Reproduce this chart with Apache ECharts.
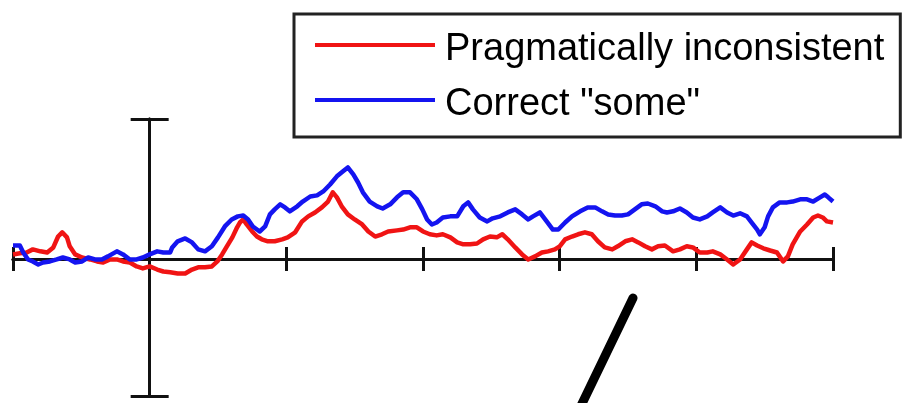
<!DOCTYPE html>
<html>
<head>
<meta charset="utf-8">
<title>ERP waveforms</title>
<script src="https://cdn.jsdelivr.net/npm/echarts@6/dist/echarts.min.js"></script>
<style>
  html, body { margin: 0; padding: 0; background: #fff; }
  #chart { width: 903px; height: 403px; }
</style>
</head>
<body>
<div id="chart"></div>
<script>
// Series names
const seriesNames = ['Pragmatically inconsistent', 'Correct "some"'];

// Time axis (ms) and tick positions
const timeTicks = [-200, 0, 200, 400, 600, 800, 1000];
// Amplitude scale bar ends (µV)
const ampRange = [-4.9, 5];

// Pragmatically inconsistent: time (ms) / amplitude (µV)
const timesRed = [-200, -190, -180, -171, -160, -150, -141, -134, -128, -121, -117, -109, -99, -87, -77, -68, -58, -48, -39, -29, -19, -10, 0, 11, 20, 30, 41, 52, 62, 71, 81, 91, 99, 106, 113, 121, 128, 132, 137, 142, 150, 157, 164, 173, 183, 194, 202, 213, 223, 232, 242, 252, 261, 268, 274, 281, 290, 300, 311, 320, 330, 340, 349, 362, 371, 381, 391, 400, 410, 420, 429, 440, 450, 459, 469, 479, 488, 498, 508, 516, 524, 535, 545, 554, 564, 574, 583, 593, 600, 608, 618, 627, 637, 647, 656, 666, 677, 685, 696, 706, 715, 725, 735, 744, 754, 766, 776, 786, 795, 805, 816, 824, 835, 845, 854, 864, 874, 881, 889, 898, 908, 918, 927, 934, 941, 952, 962, 971, 978, 985, 991, 1000];
const uvRed = [0.16, 0.20, 0.23, 0.34, 0.27, 0.23, 0.41, 0.80, 0.95, 0.77, 0.45, 0.16, 0.05, -0.02, -0.09, -0.13, -0.02, -0.02, -0.09, -0.13, -0.27, -0.34, -0.27, -0.38, -0.45, -0.48, -0.52, -0.52, -0.38, -0.30, -0.30, -0.27, -0.09, 0.16, 0.45, 0.77, 1.13, 1.30, 1.41, 1.23, 0.98, 0.80, 0.70, 0.63, 0.63, 0.70, 0.77, 0.95, 1.34, 1.52, 1.66, 1.84, 2.05, 2.38, 2.20, 1.88, 1.59, 1.41, 1.23, 0.98, 0.80, 0.88, 0.98, 1.02, 1.05, 1.13, 1.13, 0.98, 0.88, 0.84, 0.88, 0.77, 0.59, 0.52, 0.52, 0.55, 0.70, 0.80, 0.77, 0.88, 0.70, 0.41, 0.16, -0.02, 0.09, 0.23, 0.27, 0.34, 0.45, 0.70, 0.80, 0.88, 0.95, 0.88, 0.63, 0.41, 0.34, 0.45, 0.63, 0.70, 0.59, 0.45, 0.34, 0.45, 0.48, 0.27, 0.34, 0.45, 0.41, 0.23, 0.23, 0.27, 0.16, -0.02, -0.20, -0.02, 0.34, 0.59, 0.48, 0.38, 0.30, 0.23, -0.09, 0.09, 0.52, 0.98, 1.23, 1.48, 1.55, 1.48, 1.34, 1.30];

// Correct "some": time (ms) / amplitude (µV)
const timesBlue = [-200, -190, -185, -178, -171, -163, -156, -146, -136, -127, -117, -109, -99, -90, -80, -70, -61, -48, -39, -29, -19, -10, 0, 11, 20, 30, 33, 41, 52, 62, 71, 81, 91, 100, 110, 120, 129, 137, 144, 151, 161, 169, 176, 183, 191, 198, 205, 216, 224, 235, 245, 254, 264, 274, 283, 290, 298, 305, 312, 322, 333, 341, 352, 362, 371, 381, 391, 399, 406, 413, 420, 429, 440, 450, 459, 466, 473, 483, 494, 502, 513, 524, 535, 545, 554, 561, 571, 581, 590, 598, 608, 618, 630, 641, 652, 662, 671, 681, 691, 700, 710, 720, 729, 740, 750, 757, 766, 776, 786, 795, 805, 816, 824, 835, 845, 854, 864, 874, 881, 889, 893, 900, 905, 912, 922, 933, 941, 952, 962, 971, 981, 988, 993, 1000];
const uvBlue = [0.48, 0.48, 0.23, -0.02, -0.09, -0.20, -0.13, -0.09, -0.02, 0.05, -0.02, -0.13, -0.09, 0.05, -0.02, -0.02, 0.09, 0.27, 0.16, -0.02, -0.02, 0.05, 0.16, 0.27, 0.23, 0.23, 0.41, 0.63, 0.73, 0.59, 0.34, 0.27, 0.45, 0.77, 1.16, 1.41, 1.52, 1.55, 1.41, 1.16, 0.98, 1.16, 1.59, 1.77, 1.95, 1.84, 1.70, 1.88, 2.05, 2.23, 2.27, 2.41, 2.66, 2.95, 3.13, 3.27, 3.02, 2.73, 2.38, 2.05, 1.88, 1.80, 1.95, 2.20, 2.38, 2.38, 2.13, 1.77, 1.41, 1.23, 1.30, 1.48, 1.52, 1.52, 1.88, 2.02, 1.77, 1.48, 1.34, 1.45, 1.52, 1.66, 1.77, 1.59, 1.41, 1.52, 1.66, 1.34, 1.05, 1.05, 1.30, 1.52, 1.70, 1.84, 1.84, 1.70, 1.59, 1.55, 1.55, 1.59, 1.77, 1.95, 1.98, 1.88, 1.70, 1.66, 1.70, 1.80, 1.66, 1.48, 1.41, 1.52, 1.66, 1.84, 1.66, 1.55, 1.63, 1.52, 1.30, 1.05, 0.88, 1.13, 1.52, 1.84, 2.02, 2.02, 2.05, 2.13, 2.13, 2.05, 2.20, 2.30, 2.20, 2.05];

const seriesColors = ['#f01414', '#1414f0'];
const axisColor = '#111';

const pairs = (ts, vs) => ts.map((t, i) => [t, vs[i]]);

const chart = echarts.init(document.getElementById('chart'), null, { renderer: 'canvas' });

// Shared settings for the time axes: one draws tick halves below, the other above
const timeAxis = (position) => ({
  type: 'value',
  position: position,
  min: timeTicks[0],
  max: timeTicks[timeTicks.length - 1],
  interval: timeTicks[1] - timeTicks[0],
  axisLine: { show: true, onZero: true, onZeroAxisIndex: 0, lineStyle: { color: axisColor, width: 3 } },
  axisTick: { show: true, length: 12, lineStyle: { color: axisColor, width: 3 } },
  axisLabel: { show: false },
  splitLine: { show: false }
});

// Amplitude scale bar: vertical line through time zero with caps at both ends
const ampAxis = (position) => ({
  type: 'value',
  position: position,
  min: ampRange[0],
  max: ampRange[1],
  axisLine: { show: true, onZero: true, onZeroAxisIndex: 0, lineStyle: { color: axisColor, width: 3 } },
  axisTick: { show: true, length: 19, customValues: ampRange, lineStyle: { color: axisColor, width: 3 } },
  axisLabel: { show: false },
  splitLine: { show: false }
});

const legendFont = { color: '#000', fontFamily: 'Liberation Sans, Arial, sans-serif', fontSize: 38 };

chart.setOption({
  animation: false,
  backgroundColor: '#fff',
  grid: { left: 13, right: 70, top: 119, bottom: 7, containLabel: false },
  xAxis: [timeAxis('bottom'), timeAxis('top')],
  yAxis: [ampAxis('left'), ampAxis('right')],
  legend: {
    orient: 'vertical',
    left: 294,
    top: 14,
    padding: [17, 16, 13, 21],
    itemGap: 17,
    itemWidth: 120,
    itemHeight: 4,
    icon: 'rect',
    backgroundColor: '#fff',
    borderColor: '#222',
    borderWidth: 3,
    borderRadius: 0,
    selectedMode: false,
    formatter: '{t|{name}}',
    textStyle: Object.assign({}, legendFont, {
      padding: [10, 0, 0, 5],
      rich: { t: Object.assign({}, legendFont) }
    }),
    data: seriesNames
  },
  series: [
    {
      name: seriesNames[0],
      type: 'line',
      data: pairs(timesRed, uvRed),
      showSymbol: false,
      symbol: 'none',
      smooth: false,
      color: seriesColors[0],
      lineStyle: { width: 4.5, color: seriesColors[0], join: 'round' },
      z: 3
    },
    {
      name: seriesNames[1],
      type: 'line',
      data: pairs(timesBlue, uvBlue),
      showSymbol: false,
      symbol: 'none',
      smooth: false,
      color: seriesColors[1],
      lineStyle: { width: 4.5, color: seriesColors[1], join: 'round' },
      z: 4
    }
  ],
  graphic: [
    {
      // pen stroke annotation in the lower right
      type: 'line',
      shape: { x1: 633, y1: 298, x2: 578, y2: 412 },
      style: { stroke: '#000', lineWidth: 9, lineCap: 'round' },
      z: 10
    }
  ]
});
</script>
</body>
</html>
